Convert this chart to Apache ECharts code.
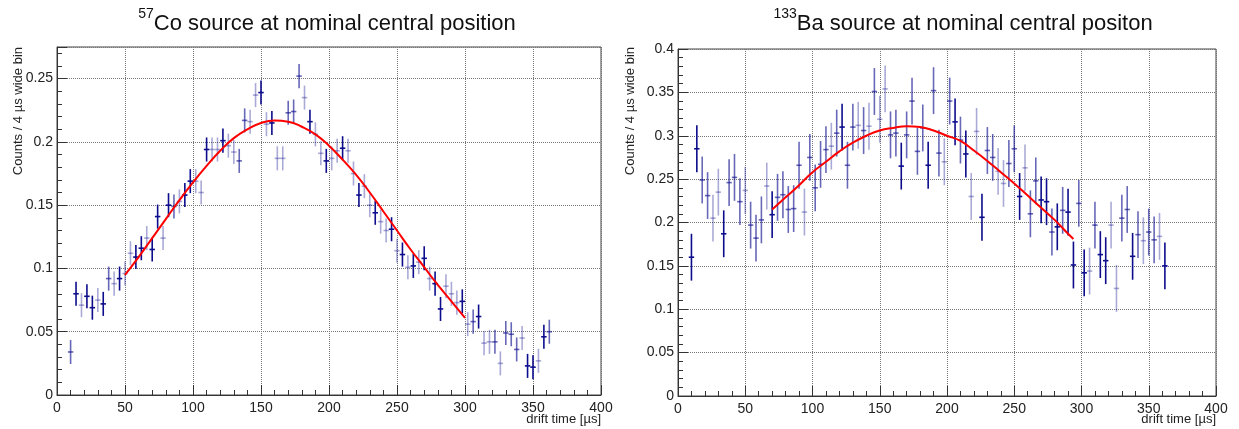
<!DOCTYPE html>
<html>
<head>
<meta charset="utf-8">
<script src="https://cdn.jsdelivr.net/npm/echarts@6/dist/echarts.min.js"></script>
<style>
  html, body { margin: 0; padding: 0; background: #fff; }
  #chart { width: 1239px; height: 429px; }
</style>
</head>
<body>
<div id="chart"></div>
<script>
// bin centres, 4 us wide bins
var driftTime = [10, 14, 18, 22, 26, 30, 34, 38, 42, 46, 50, 54, 58, 62, 66, 70, 74, 78, 82, 86,
  90, 94, 98, 102, 106, 110, 114, 118, 122, 126, 130, 134, 138, 142, 146, 150, 154, 158, 162, 166,
  170, 174, 178, 182, 186, 190, 194, 198, 202, 206, 210, 214, 218, 222, 226, 230, 234, 238, 242, 246,
  250, 254, 258, 262, 266, 270, 274, 278, 282, 286, 290, 294, 298, 302, 306, 310, 314, 318, 322, 326,
  330, 334, 338, 342, 346, 350, 354, 358, 362];

// 57Co
var coCounts = [0.034, 0.080, 0.071, 0.078, 0.069, 0.075, 0.072, 0.092, 0.088, 0.092,
  0.096, 0.112, 0.109, 0.116, 0.124, 0.115, 0.141, 0.124, 0.150, 0.149,
  0.153, 0.158, 0.169, 0.169, 0.160, 0.194, 0.194, 0.194, 0.201, 0.197,
  0.192, 0.185, 0.217, 0.216, 0.237, 0.239, 0.214, 0.215, 0.187, 0.187,
  0.223, 0.224, 0.252, 0.235, 0.216, 0.206, 0.191, 0.185, 0.187, 0.193,
  0.195, 0.193, 0.175, 0.158, 0.165, 0.150, 0.144, 0.137, 0.130, 0.131,
  0.114, 0.111, 0.101, 0.102, 0.105, 0.108, 0.092, 0.088, 0.068, 0.086,
  0.080, 0.073, 0.074, 0.056, 0.058, 0.062, 0.041, 0.042, 0.042, 0.025,
  0.049, 0.048, 0.036, 0.045, 0.023, 0.022, 0.027, 0.046, 0.050];
// 1 = faint, 2 = medium, 3 = strong
var coWeight = [2, 3, 1, 3, 3, 1, 3, 2, 1, 3,
  1, 1, 3, 3, 1, 3, 3, 1, 3, 2,
  1, 3, 3, 1, 1, 3, 1, 1, 3, 1,
  1, 2, 2, 1, 1, 3, 1, 3, 1, 1,
  2, 2, 2, 1, 3, 1, 1, 3, 1, 1,
  3, 1, 1, 3, 1, 1, 3, 1, 1, 3,
  1, 3, 1, 3, 1, 3, 1, 3, 3, 1,
  1, 1, 3, 1, 2, 3, 1, 1, 2, 1,
  2, 2, 2, 1, 3, 3, 1, 3, 2];
var coError = 0.0095;
var coFitTime = [50, 60, 70, 80, 90, 100, 110, 120, 130, 140, 150, 160, 170, 180, 190, 200,
  210, 220, 230, 240, 250, 260, 270, 280, 290, 300];
var coFitCounts = [0.095, 0.109, 0.124, 0.139, 0.154, 0.168, 0.181, 0.193, 0.203, 0.210, 0.215, 0.217, 0.216,
  0.212, 0.206, 0.197, 0.186, 0.174, 0.160, 0.145, 0.130, 0.115, 0.101, 0.087, 0.074, 0.061];

// 133Ba
var baCounts = [0.160, 0.285, 0.249, 0.231, 0.205, 0.235, 0.187, 0.246, 0.252, 0.224,
  0.237, 0.197, 0.182, 0.203, 0.242, 0.209, 0.229, 0.232, 0.215, 0.216,
  0.266, 0.212, 0.275, 0.240, 0.267, 0.284, 0.288, 0.303, 0.310, 0.266,
  0.310, 0.312, 0.306, 0.311, 0.351, 0.319, 0.354, 0.301, 0.303, 0.265,
  0.301, 0.340, 0.282, 0.309, 0.266, 0.352, 0.280, 0.270, 0.340, 0.316,
  0.295, 0.279, 0.230, 0.305, 0.206, 0.283, 0.275, 0.259, 0.245, 0.268,
  0.285, 0.230, 0.263, 0.210, 0.248, 0.226, 0.224, 0.189, 0.195, 0.214,
  0.212, 0.151, 0.222, 0.142, 0.144, 0.197, 0.163, 0.156, 0.197, 0.124,
  0.205, 0.215, 0.161, 0.186, 0.179, 0.189, 0.180, 0.184, 0.150];
var baWeight = [3, 3, 2, 2, 1, 1, 3, 2, 2, 2,
  1, 2, 2, 2, 1, 3, 2, 2, 2, 2,
  2, 1, 2, 2, 2, 2, 1, 2, 3, 2,
  2, 1, 2, 1, 2, 1, 1, 2, 2, 3,
  2, 2, 2, 2, 3, 2, 2, 1, 2, 3,
  2, 3, 1, 1, 3, 2, 2, 1, 1, 2,
  2, 3, 1, 2, 2, 3, 3, 2, 3, 2,
  3, 3, 2, 3, 1, 2, 3, 3, 1, 1,
  2, 2, 3, 2, 1, 2, 2, 1, 3];
var baError = 0.027;
var baFitTime = [70, 80, 90, 100, 110, 120, 130, 140, 150, 160, 170, 180, 190, 200,
  210, 220, 230, 240, 250, 260, 270, 280, 290, 294];
var baFitCounts = [0.215, 0.229, 0.243, 0.258, 0.270, 0.282, 0.292, 0.300, 0.306, 0.309, 0.311, 0.310,
  0.306, 0.300, 0.294, 0.283, 0.271, 0.258, 0.245, 0.231, 0.217, 0.203, 0.187, 0.181];

var binHalf = 2;
var alphas = [0, 0.35, 0.62, 1];
var font = '"Liberation Sans", Arial, Helvetica, sans-serif';

function points(counts, weight) {
  return driftTime.map(function (t, i) { return [t, counts[i], weight[i]]; });
}

function fitLine(times, counts) {
  return times.map(function (t, i) { return [t, counts[i]]; });
}

function errorBars(err) {
  return function (params, api) {
    var t = api.value(0), v = api.value(1), w = api.value(2);
    var top = api.coord([t, v + err]);
    var bot = api.coord([t, Math.max(v - err, 0)]);
    var l = api.coord([t - binHalf, v]);
    var r = api.coord([t + binHalf, v]);
    var style = { stroke: 'rgba(12,12,140,' + alphas[w] + ')', lineWidth: 1.6, fill: null };
    return {
      type: 'group',
      children: [
        { type: 'line', shape: { x1: top[0], y1: top[1], x2: bot[0], y2: bot[1] }, style: style },
        { type: 'line', shape: { x1: l[0], y1: l[1], x2: r[0], y2: r[1] }, style: style }
      ]
    };
  };
}

function xAxisFor(idx) {
  return {
    type: 'value', gridIndex: idx, min: 0, max: 400, interval: 50,
    axisLine: { show: true, onZero: false, lineStyle: { color: '#333' } },
    axisTick: { show: true, inside: true, length: 10, lineStyle: { color: '#333' } },
    minorTick: { show: true, splitNumber: 5, length: 5, lineStyle: { color: '#333' } },
    splitLine: { show: true, lineStyle: { color: '#777', type: 'dotted' } },
    axisLabel: { fontFamily: font, fontSize: 14, color: '#222', margin: 6 }
  };
}

function yAxisFor(idx, max, showMax) {
  return {
    type: 'value', gridIndex: idx, min: 0, max: max, interval: 0.05,
    axisLine: { show: true, onZero: false, lineStyle: { color: '#333' } },
    axisTick: { show: true, inside: true, length: 10, lineStyle: { color: '#333' } },
    minorTick: { show: true, splitNumber: 5, length: 5, lineStyle: { color: '#333' } },
    splitLine: { show: true, lineStyle: { color: '#777', type: 'dotted' } },
    axisLabel: {
      fontFamily: font, fontSize: 14, color: '#222', margin: 4, showMaxLabel: showMax,
      formatter: function (v) { return String(+v.toFixed(3)); }
    }
  };
}

function titleText(iso, rest) {
  return '{sup|' + iso + '}{main|' + rest + '}';
}

var titleRich = {
  sup: { fontFamily: font, fontSize: 14, fontWeight: 'normal', color: '#111', verticalAlign: 'top', lineHeight: 28 },
  main: { fontFamily: font, fontSize: 22, fontWeight: 'normal', color: '#111', verticalAlign: 'bottom', lineHeight: 28 }
};

var chart = echarts.init(document.getElementById('chart'), null, { renderer: 'canvas' });

chart.setOption({
  animation: false,
  backgroundColor: '#fff',
  title: [
    { text: titleText('57', 'Co source at nominal central position'), left: 322, top: 2, textAlign: 'center',
      textStyle: { fontWeight: 'normal', rich: titleRich } },
    { text: titleText('133', 'Ba source at nominal central positon'), left: 958, top: 2, textAlign: 'center',
      textStyle: { fontWeight: 'normal', rich: titleRich } }
  ],
  grid: [
    { left: 57, right: 638, top: 47, bottom: 34, show: true, borderColor: '#444', borderWidth: 1 },
    { left: 678, right: 23, top: 49, bottom: 33, show: true, borderColor: '#444', borderWidth: 1 }
  ],
  xAxis: [xAxisFor(0), xAxisFor(1)],
  yAxis: [yAxisFor(0, 0.275, false), yAxisFor(1, 0.4, true)],
  graphic: [
    { type: 'text', x: 18, y: 47, rotation: Math.PI / 2,
      style: { text: 'Counts / 4 \u00b5s wide bin', font: '13px ' + font, fill: '#222', align: 'right', verticalAlign: 'middle' } },
    { type: 'text', x: 630, y: 47, rotation: Math.PI / 2,
      style: { text: 'Counts / 4 \u00b5s wide bin', font: '13px ' + font, fill: '#222', align: 'right', verticalAlign: 'middle' } },
    { type: 'text', x: 601, y: 419,
      style: { text: 'drift time [\u00b5s]', font: '13px ' + font, fill: '#222', align: 'right', verticalAlign: 'middle' } },
    { type: 'text', x: 1216, y: 419,
      style: { text: 'drift time [\u00b5s]', font: '13px ' + font, fill: '#222', align: 'right', verticalAlign: 'middle' } }
  ],
  series: [
    { type: 'custom', xAxisIndex: 0, yAxisIndex: 0, renderItem: errorBars(coError),
      data: points(coCounts, coWeight), clip: true, silent: true },
    { type: 'line', xAxisIndex: 0, yAxisIndex: 0, data: fitLine(coFitTime, coFitCounts),
      smooth: true, showSymbol: false, lineStyle: { color: '#ff0000', width: 2 }, silent: true },
    { type: 'custom', xAxisIndex: 1, yAxisIndex: 1, renderItem: errorBars(baError),
      data: points(baCounts, baWeight), clip: true, silent: true },
    { type: 'line', xAxisIndex: 1, yAxisIndex: 1, data: fitLine(baFitTime, baFitCounts),
      smooth: true, showSymbol: false, lineStyle: { color: '#ff0000', width: 2 }, silent: true }
  ]
});
</script>
</body>
</html>
